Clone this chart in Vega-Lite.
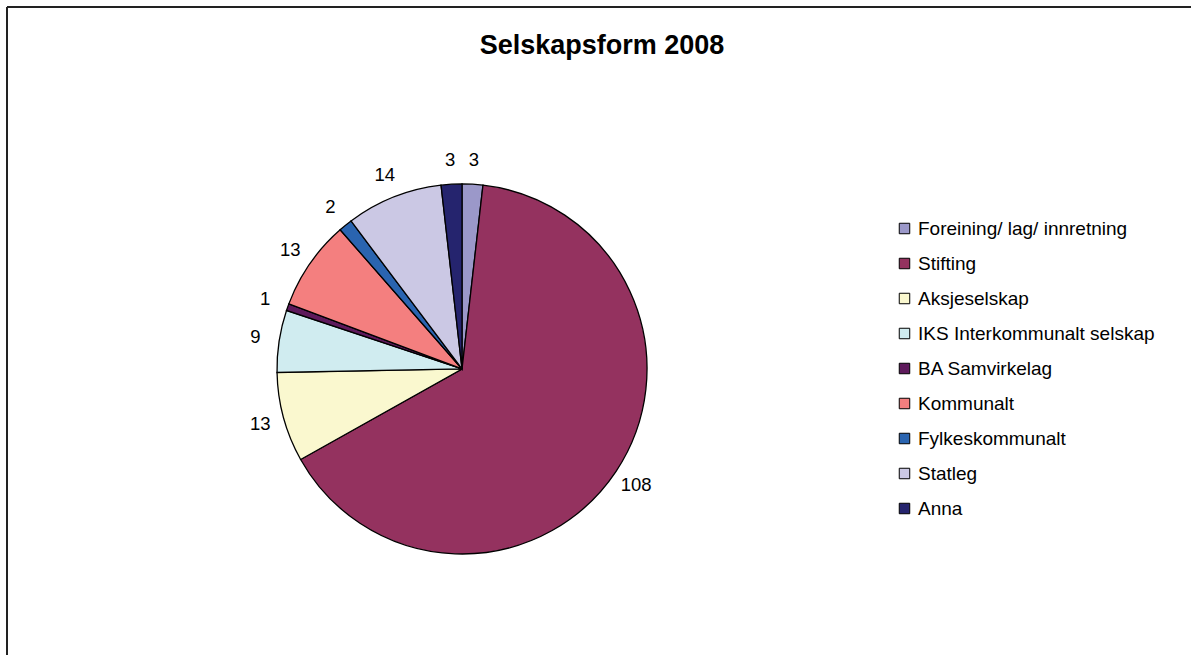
{
  "$schema": "https://vega.github.io/schema/vega-lite/v6.json",
  "autosize": "none",
  "width": 1184,
  "height": 648,
  "padding": {"left": 7, "top": 7, "right": 0, "bottom": 0},
  "background": "white",
  "config": {
    "view": {"stroke": null},
    "font": "Liberation Sans"
  },
  "title": {
    "text": "Selskapsform 2008",
    "font": "Liberation Sans",
    "fontSize": 27,
    "fontWeight": "bold",
    "color": "#000000",
    "anchor": "middle",
    "frame": "group",
    "offset": 0,
    "baseline": "alphabetic",
    "dx": 3,
    "dy": 75
  },
  "data": {
    "values": [
      {"idx": 1, "form": "Foreining/ lag/ innretning", "count": 3},
      {"idx": 2, "form": "Stifting", "count": 108},
      {"idx": 3, "form": "Aksjeselskap", "count": 13},
      {"idx": 4, "form": "IKS Interkommunalt selskap", "count": 9},
      {"idx": 5, "form": "BA Samvirkelag", "count": 1},
      {"idx": 6, "form": "Kommunalt", "count": 13},
      {"idx": 7, "form": "Fylkeskommunalt", "count": 2},
      {"idx": 8, "form": "Statleg", "count": 14},
      {"idx": 9, "form": "Anna", "count": 3}
    ]
  },
  "layer": [
    {
      "data": {"values": [{"edge": "top"}]},
      "mark": {"type": "rule", "stroke": "#222222", "strokeWidth": 2},
      "encoding": {"y": {"value": 0}}
    },
    {
      "data": {"values": [{"edge": "left"}]},
      "mark": {"type": "rule", "stroke": "#222222", "strokeWidth": 2},
      "encoding": {"x": {"value": 0}}
    },
    {
      "mark": {
        "type": "arc",
        "outerRadius": 185,
        "x": {"expr": "width * 0.3843"},
        "y": {"expr": "height * 0.5586"},
        "stroke": "#000000",
        "strokeWidth": 1.3
      },
      "encoding": {
        "theta": {"field": "count", "type": "quantitative", "stack": true},
        "order": {"field": "idx", "type": "quantitative"},
        "color": {
          "field": "form",
          "type": "nominal",
          "sort": ["Foreining/ lag/ innretning", "Stifting", "Aksjeselskap", "IKS Interkommunalt selskap", "BA Samvirkelag", "Kommunalt", "Fylkeskommunalt", "Statleg", "Anna"],
          "scale": {
            "domain": ["Foreining/ lag/ innretning", "Stifting", "Aksjeselskap", "IKS Interkommunalt selskap", "BA Samvirkelag", "Kommunalt", "Fylkeskommunalt", "Statleg", "Anna"],
            "range": ["#9b98c9", "#94325f", "#faf8cf", "#d0ecf0", "#5e1a5c", "#f47f7f", "#2a64b0", "#cbc8e4", "#25246e"]
          },
          "legend": {
            "title": null,
            "orient": "none",
            "legendX": 888,
            "legendY": 212,
            "padding": 0,
            "symbolType": "square",
            "symbolSize": 110,
            "symbolStrokeColor": "#000000",
            "symbolStrokeWidth": 1,
            "labelFont": "Liberation Sans",
            "labelFontSize": 19,
            "labelColor": "#000000",
            "labelOffset": 4,
            "labelLimit": 400,
            "rowPadding": 15
          }
        }
      }
    },
    {
      "mark": {
        "type": "text",
        "radius": 209,
        "x": {"expr": "width * 0.3843"},
        "y": {"expr": "height * 0.5586"},
        "font": "Liberation Sans",
        "fontSize": 18.5,
        "color": "#000000",
        "align": "center",
        "baseline": "middle"
      },
      "encoding": {
        "theta": {"field": "count", "type": "quantitative", "stack": true},
        "order": {"field": "idx", "type": "quantitative"},
        "text": {"field": "count", "type": "quantitative"}
      }
    }
  ]
}
